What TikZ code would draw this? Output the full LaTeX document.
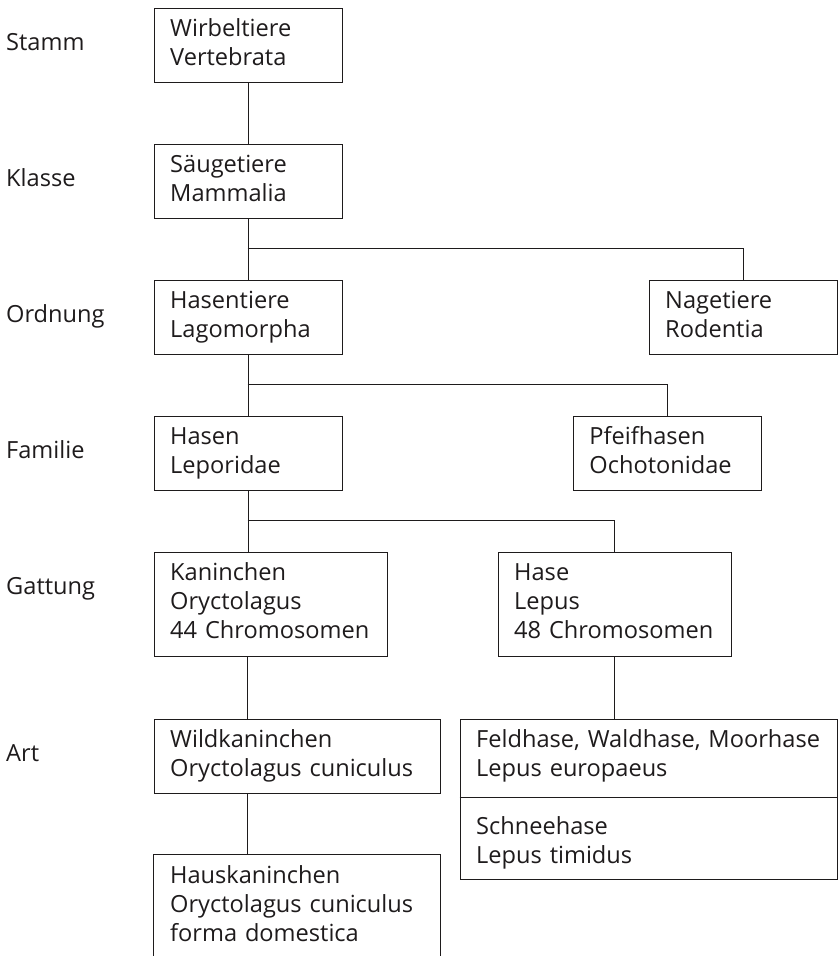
\documentclass[tikz,border=0pt]{standalone}
\usepackage{fontspec}
\setmainfont{Open Sans}
\usetikzlibrary{calc}
\definecolor{ink}{RGB}{30,27,28}
\begin{document}
\begin{tikzpicture}[x=1pt,y=-1pt,
  boxnode/.style={draw=ink, line width=1.2pt, inner sep=0pt, anchor=north west},
  openbox/.style={inner sep=0pt, anchor=north west},
  txt/.style={anchor=base west, inner sep=0pt, text width=370pt, align=left, font=\fontsize{23.6}{29}\selectfont, text=ink},
  rank/.style={anchor=base west, inner sep=0pt, font=\fontsize{23.6}{29}\selectfont, text=ink},
  conn/.style={draw=ink, line width=1.2pt}]
\useasboundingbox (0,0) rectangle (838,956);

% boxes
\node[boxnode, minimum width=188.2pt, minimum height=74pt] (wirb) at (153.5,7.5) {};
\node[boxnode, minimum width=188.2pt, minimum height=74pt] (saug) at (153.5,143.5) {};
\node[boxnode, minimum width=188.2pt, minimum height=74pt] (hasent) at (153.5,279.5) {};
\node[boxnode, minimum width=188.2pt, minimum height=74pt] (nage) at (648.5,279.5) {};
\node[boxnode, minimum width=188.2pt, minimum height=74pt] (hasen) at (153.5,415.5) {};
\node[boxnode, minimum width=188.2pt, minimum height=74pt] (pfeif) at (572.7,415.5) {};
\node[boxnode, minimum width=233.2pt, minimum height=104.3pt] (kan) at (153.5,551.7) {};
\node[boxnode, minimum width=233.3pt, minimum height=104.3pt] (hase) at (497.5,551.7) {};
\node[boxnode, minimum width=286.6pt, minimum height=74pt] (wild) at (153.5,718.5) {};
\node[boxnode, minimum width=377pt, minimum height=160.2pt] (feld) at (459.5,718.5) {};
\node[openbox, minimum width=286.6pt, minimum height=110pt] (haus) at (153.5,854.5) {};
\draw[conn] (haus.south west) -- (haus.north west) -- (haus.north east) -- (haus.south east);
\coordinate (div) at (459.5,797.5);
\draw[conn] (div) -- (div -| feld.east);

% box texts
\node[txt] (wirbT) at ($(wirb.north west)+(16.5,28.7)$) {Wirbeltiere\\Vertebrata};
\node[txt] (saugT) at ($(saug.north west)+(16.5,28.7)$) {Säugetiere\\Mammalia};
\node[txt] (hasentT) at ($(hasent.north west)+(16.5,28.7)$) {Hasentiere\\Lagomorpha};
\node[txt] (nageT) at ($(nage.north west)+(16.5,28.7)$) {Nagetiere\\Rodentia};
\node[txt] (hasenT) at ($(hasen.north west)+(16.5,28.7)$) {Hasen\\Leporidae};
\node[txt] (pfeifT) at ($(pfeif.north west)+(16.5,28.7)$) {Pfeifhasen\\Ochotonidae};
\node[txt] (kanT) at ($(kan.north west)+(16.5,28.5)$) {Kaninchen\\Oryctolagus\\44 Chromosomen};
\node[txt] (haseT) at ($(hase.north west)+(16.5,28.5)$) {Hase\\Lepus\\48 Chromosomen};
\node[txt] (wildT) at ($(wild.north west)+(16.5,28.5)$) {Wildkaninchen\\Oryctolagus cuniculus};
\node[txt] (feldT) at ($(feld.north west)+(16.5,28.5)$) {Feldhase, Waldhase, Moorhase\\Lepus europaeus};
\node[txt] (schneeT) at ($(div)+(16.5,37.3)$) {Schneehase\\Lepus timidus};
\node[txt] (hausT) at ($(haus.north west)+(16.5,28.5)$) {Hauskaninchen\\Oryctolagus cuniculus\\forma domestica};

% rank labels
\node[rank] (stamm) at (6,50) {Stamm};
\node[rank] (klasse) at (6,186) {Klasse};
\node[rank] (ordnung) at (6,322) {Ordnung};
\node[rank] (familie) at (6,458.4) {Familie};
\node[rank] (gattung) at (6,594.4) {Gattung};
\node[rank] (art) at (6,761) {Art};

% connectors
\coordinate (trunk) at (247.5,0);
\coordinate (br1) at (247.5,248.5);
\coordinate (br2) at (247.5,384.5);
\coordinate (br3) at (247.5,520.5);
\draw[conn] (wirb.south) -- (saug.north);
\draw[conn] (saug.south) -- (hasent.north);
\draw[conn] (br1) -| (nage.north);
\draw[conn] (hasent.south) -- (hasen.north);
\draw[conn] (br2) -| (pfeif.north);
\draw[conn] (hasen.south) -- (hasen.south |- kan.north);
\draw[conn] (br3) -| (hase.north);
\draw[conn] (kan.south -| trunk) -- (wild.north -| trunk);
\draw[conn] (wild.south -| trunk) -- (haus.north -| trunk);
\draw[conn] (hase.south) -- (hase.south |- feld.north);
\end{tikzpicture}
\end{document}
